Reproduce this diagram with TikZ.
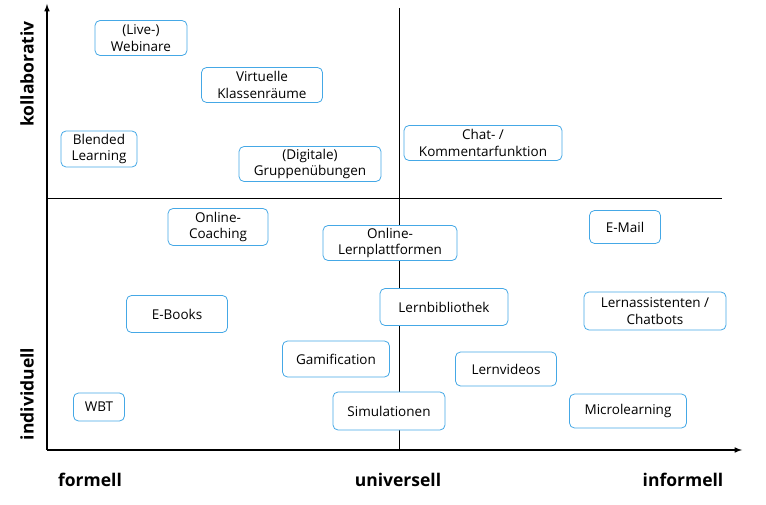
\documentclass[tikz,border=0pt]{standalone}
\usepackage{fontspec}
\setmainfont{Open Sans}
\definecolor{bx}{HTML}{45A8E6}
\begin{document}
\begin{tikzpicture}[x=1pt,y=-1pt,
  card/.style={draw=bx,fill=white,line width=0.8pt,rounded corners=5pt,align=center,font=\fontsize{13.5}{16.5}\selectfont,inner sep=0pt},
  axl/.style={font=\fontsize{17.5}{20}\selectfont\bfseries},
  ax/.style={line width=1.5pt,-latex}]
\useasboundingbox (0,0) rectangle (766,505);
\coordinate (o) at (47,450);
\coordinate (top) at (47,4);
\coordinate (right) at (742,450);
\draw[ax] (o) -- (top);
\draw[ax] (o) -- (right);
\coordinate (v1) at (399,8); \coordinate (v2) at (399,450);
\coordinate (h1) at (47,198); \coordinate (h2) at (722,198);
\draw[line width=0.6pt] (v1) -- (v2);
\draw[line width=0.6pt] (h1) -- (h2);
\node[axl,rotate=90] (k) at (27,74) {kollaborativ};
\node[axl,rotate=90] (i) at (27,394) {individuell};
\node[axl] (f) at (90,480) {formell};
\node[axl] (u) at (398,480) {universell};
\node[axl] (inf) at (683,480) {informell};
\node[card,minimum width=92,minimum height=35] (a) at (141,38) {(Live-)\\Webinare};
\node[card,minimum width=121,minimum height=35] (b) at (262,85) {Virtuelle\\Klassenräume};
\node[card,minimum width=76,minimum height=36] (c) at (99,149) {Blended\\Learning};
\node[card,minimum width=142,minimum height=35] (d) at (310,164) {(Digitale)\\Gruppenübungen};
\node[card,minimum width=158,minimum height=35] (e) at (483,143) {Chat- /\\Kommentarfunktion};
\node[card,minimum width=100,minimum height=37] (g) at (218,227) {Online-\\Coaching};
\node[card,minimum width=134,minimum height=35] (h) at (390,243) {Online-\\Lernplattformen};
\node[card,minimum width=71,minimum height=33] (m) at (625,227) {E-Mail};
\node[card,minimum width=101,minimum height=37] (eb) at (177,314) {E-Books};
\node[card,minimum width=128,minimum height=37] (lb) at (444,307) {Lernbibliothek};
\node[card,minimum width=142,minimum height=38] (la) at (655,311) {Lernassistenten /\\Chatbots};
\node[card,minimum width=107,minimum height=36] (ga) at (336,359) {Gamification};
\node[card,minimum width=101,minimum height=34] (lv) at (506,369) {Lernvideos};
\node[card,minimum width=51,minimum height=28] (w) at (99,407) {WBT};
\node[card,minimum width=112,minimum height=38] (s) at (389,411) {Simulationen};
\node[card,minimum width=117,minimum height=34] (ml) at (628,411) {Microlearning};
\end{tikzpicture}
\end{document}
